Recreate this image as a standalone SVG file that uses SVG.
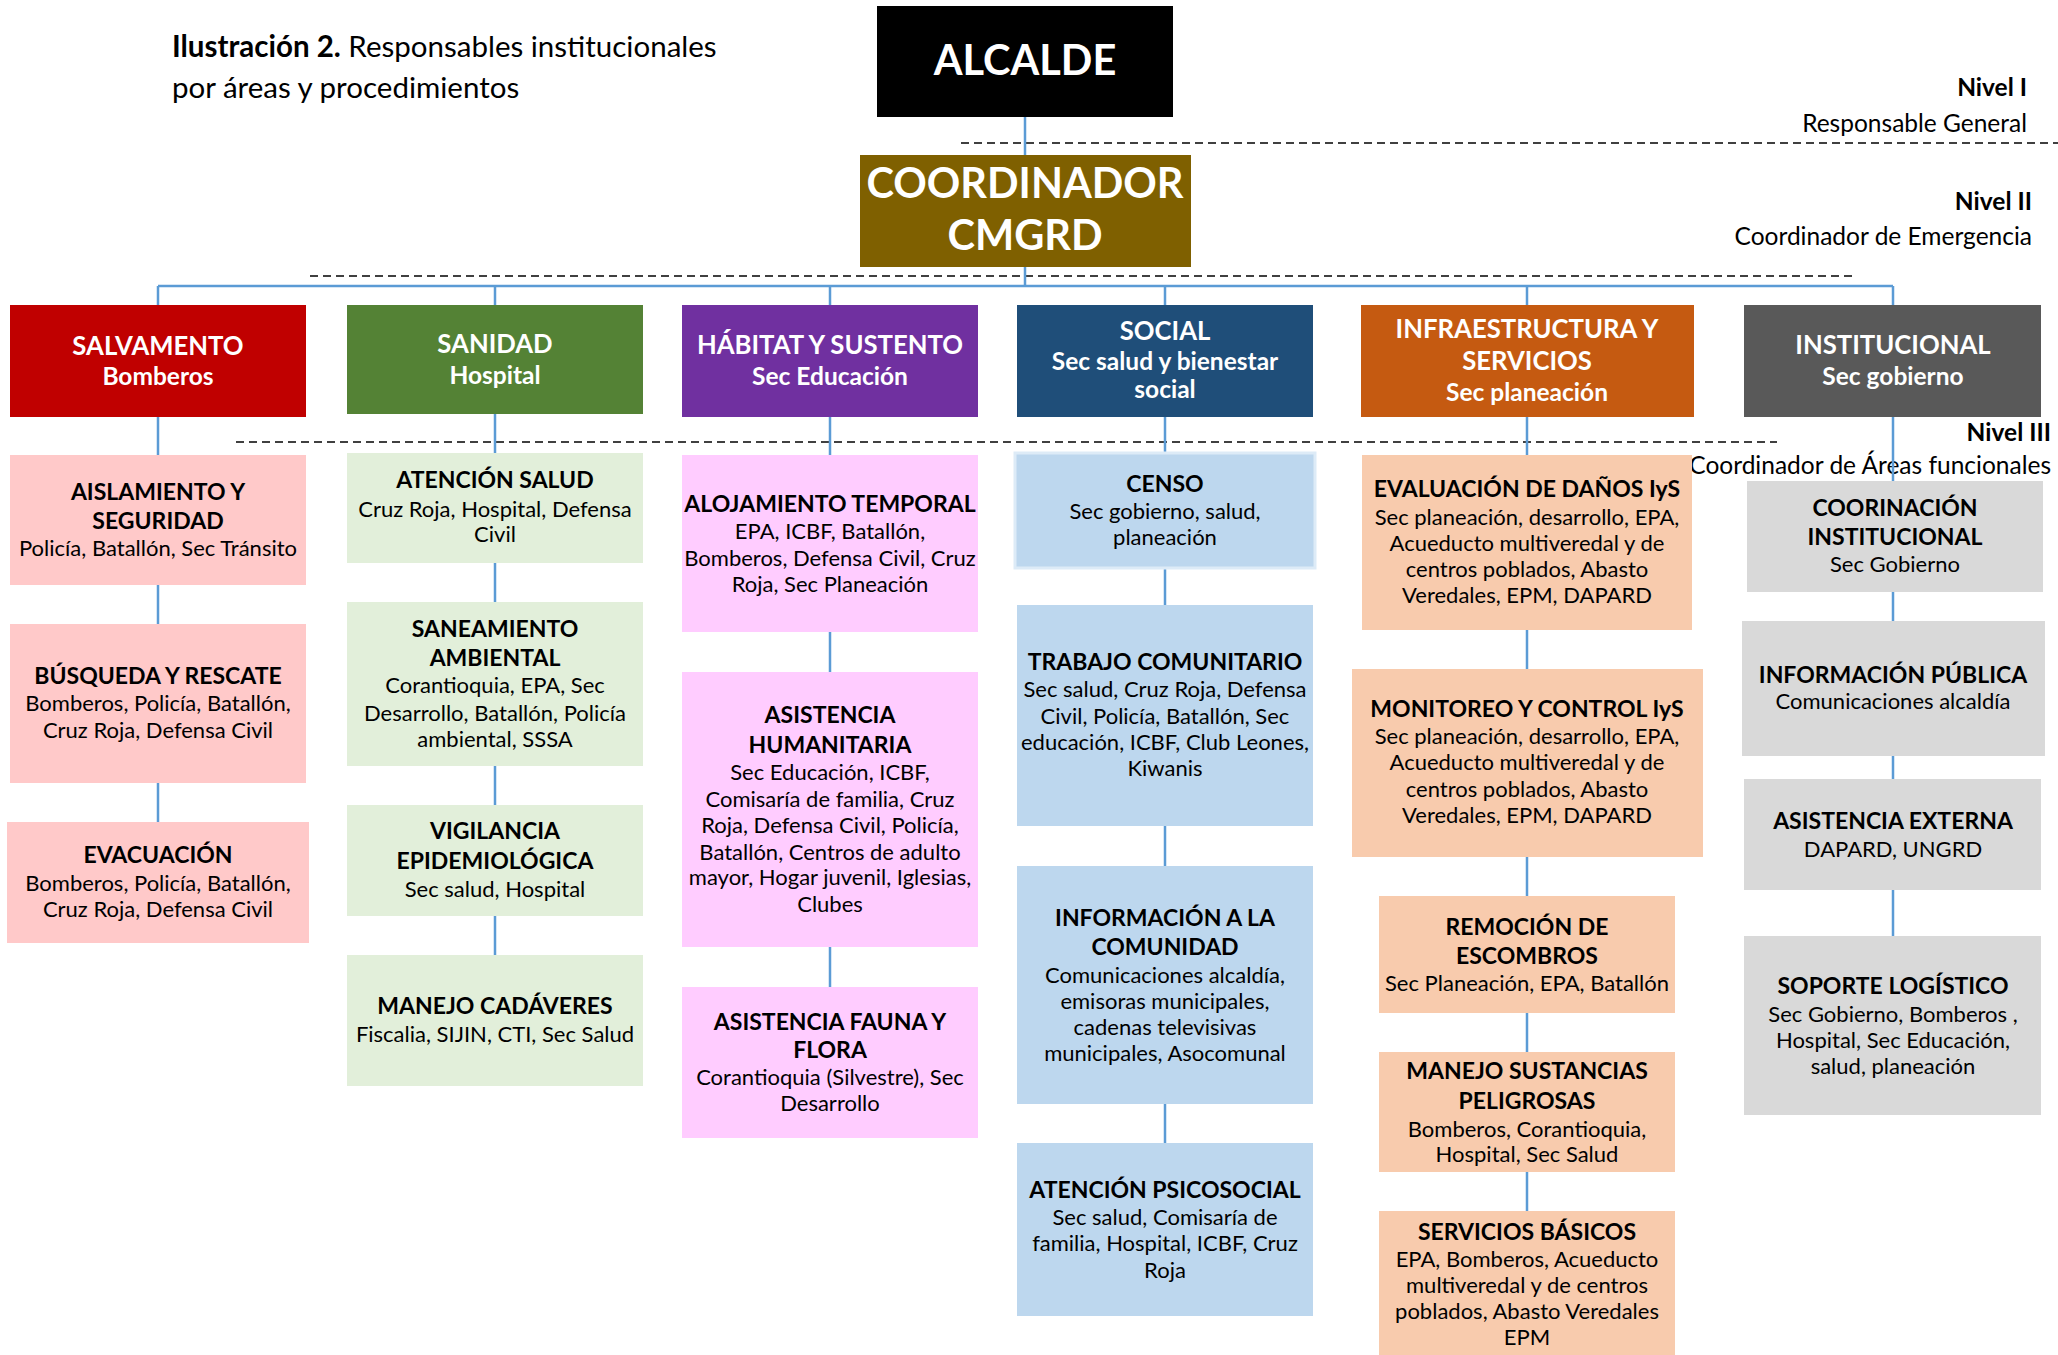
<svg xmlns="http://www.w3.org/2000/svg" width="2058" height="1355" viewBox="0 0 2058 1355">
<style>
text{font-family:Lato,"Liberation Sans",sans-serif;text-anchor:middle}
.big{font-weight:700;font-size:41.5px;fill:#fff}
.h1{font-weight:700;font-size:25.7px;fill:#fff}
.h2{font-weight:700;font-size:24.5px;fill:#fff}
.st{font-weight:700;font-size:23px;fill:#000}
.sb{font-size:22px;fill:#000}
.lab{font-size:24.5px;fill:#000;text-anchor:end}
.labb{font-size:24.5px;font-weight:700;fill:#000;text-anchor:end}
.ttl{font-size:29.5px;fill:#000;text-anchor:start}
.conn{stroke:#5B9BD5;stroke-width:2.5;fill:none}
.dash{stroke:#404040;stroke-width:2;stroke-dasharray:8 5;fill:none}
.c1{fill:#FFC9C9}.c2{fill:#E2EFDA}.c3{fill:#FFCCFF}.c4{fill:#BDD7EE}.c5{fill:#F8CBAD}.c6{fill:#D9D9D9}
</style>
<rect width="2058" height="1355" fill="#fff"/>
<g id="title">
<text class="ttl" x="172" y="57"><tspan font-weight="700">Ilustración 2.</tspan> Responsables institucionales</text>
<text class="ttl" x="172" y="98">por áreas y procedimientos</text>
</g>
<g id="levels">
<path class="dash" d="M961 143H2058M310 276H1852M236 442H1777"/>
<text class="labb" x="2027" y="96">Nivel I</text>
<text class="lab" x="2027" y="132">Responsable General</text>
<text class="labb" x="2032" y="210">Nivel II</text>
<text class="lab" x="2032" y="245">Coordinador de Emergencia</text>
<text class="labb" x="2051" y="441">Nivel III</text>
<text class="lab" x="2051" y="474">Coordinador de Áreas funcionales</text>
</g>
<g id="connectors" class="conn">
<path d="M1025 117V155M1025 267V286M158 286H1893M158 286V305M495 286V305M830 286V305M1165 286V305M1527 286V305M1893 286V305"/>
<path d="M158 417V455M158 585V624M158 783V822"/>
<path d="M495 414V453M495 563V602M495 766V805M495 916V955"/>
<path d="M830 417V455M830 632V672M830 947V987"/>
<path d="M1165 417V453M1165 568V605M1165 826V866M1165 1104V1143"/>
<path d="M1527 417V455M1527 630V669M1527 857V896M1527 1013V1052M1527 1172V1211"/>
<path d="M1893 417V481M1893 592V621M1893 756V779M1893 890V936"/>
</g>
<g id="alcalde"><rect x="877" y="6" width="296" height="111" fill="#000"/><text class="big" x="1025" y="75">ALCALDE</text></g>
<g id="coordinador"><rect x="860" y="155" width="331" height="112" fill="#7F6000"/><text class="big" x="1025" y="198">COORDINADOR</text><text class="big" x="1025" y="250">CMGRD</text></g>
<g id="salvamento"><rect x="10" y="305" width="296" height="112" fill="#C00000"/><text class="h1" x="158" y="355">SALVAMENTO</text><text class="h2" x="158" y="385">Bomberos</text></g>
<g id="sanidad"><rect x="347" y="305" width="296" height="109" fill="#548235"/><text class="h1" x="495" y="353">SANIDAD</text><text class="h2" x="495" y="384">Hospital</text></g>
<g id="habitat"><rect x="682" y="305" width="296" height="112" fill="#7030A0"/><text class="h1" x="830" y="354">HÁBITAT Y SUSTENTO</text><text class="h2" x="830" y="385">Sec Educación</text></g>
<g id="social"><rect x="1017" y="305" width="296" height="112" fill="#1F4E79"/><text class="h1" x="1165" y="340">SOCIAL</text><text class="h2" x="1165" y="370">Sec salud y bienestar</text><text class="h2" x="1165" y="398">social</text></g>
<g id="infraestructura"><rect x="1361" y="305" width="333" height="112" fill="#C55A11"/><text class="h1" x="1527" y="338">INFRAESTRUCTURA Y</text><text class="h1" x="1527" y="370">SERVICIOS</text><text class="h2" x="1527" y="401">Sec planeación</text></g>
<g id="institucional"><rect x="1744" y="305" width="297" height="112" fill="#595959"/><text class="h1" x="1893" y="354">INSTITUCIONAL</text><text class="h2" x="1893" y="385">Sec gobierno</text></g>

<g id="aislamiento"><rect class="c1" x="10" y="455" width="296" height="130"/><text class="st" x="158" y="500">AISLAMIENTO Y</text><text class="st" x="158" y="529">SEGURIDAD</text><text class="sb" x="158" y="556">Policía, Batallón, Sec Tránsito</text></g>
<g id="busqueda"><rect class="c1" x="10" y="624" width="296" height="159"/><text class="st" x="158" y="684">BÚSQUEDA Y RESCATE</text><text class="sb" x="158" y="711">Bomberos, Policía, Batallón,</text><text class="sb" x="158" y="738">Cruz Roja, Defensa Civil</text></g>
<g id="evacuacion"><rect class="c1" x="7" y="822" width="302" height="121"/><text class="st" x="158" y="863">EVACUACIÓN</text><text class="sb" x="158" y="891">Bomberos, Policía, Batallón,</text><text class="sb" x="158" y="917">Cruz Roja, Defensa Civil</text></g>

<g id="atencion-salud"><rect class="c2" x="347" y="453" width="296" height="110"/><text class="st" x="495" y="488">ATENCIÓN SALUD</text><text class="sb" x="495" y="517">Cruz Roja, Hospital, Defensa</text><text class="sb" x="495" y="542">Civil</text></g>
<g id="saneamiento"><rect class="c2" x="347" y="602" width="296" height="164"/><text class="st" x="495" y="637">SANEAMIENTO</text><text class="st" x="495" y="666">AMBIENTAL</text><text class="sb" x="495" y="693">Corantioquia, EPA, Sec</text><text class="sb" x="495" y="721">Desarrollo, Batallón, Policía</text><text class="sb" x="495" y="747">ambiental, SSSA</text></g>
<g id="vigilancia"><rect class="c2" x="347" y="805" width="296" height="111"/><text class="st" x="495" y="839">VIGILANCIA</text><text class="st" x="495" y="869">EPIDEMIOLÓGICA</text><text class="sb" x="495" y="897">Sec salud, Hospital</text></g>
<g id="cadaveres"><rect class="c2" x="347" y="955" width="296" height="131"/><text class="st" x="495" y="1014">MANEJO CADÁVERES</text><text class="sb" x="495" y="1042">Fiscalia, SIJIN, CTI, Sec Salud</text></g>

<g id="alojamiento"><rect class="c3" x="682" y="455" width="296" height="177"/><text class="st" x="830" y="512">ALOJAMIENTO TEMPORAL</text><text class="sb" x="830" y="539">EPA, ICBF, Batallón,</text><text class="sb" x="830" y="566">Bomberos, Defensa Civil, Cruz</text><text class="sb" x="830" y="592">Roja, Sec Planeación</text></g>
<g id="asistencia-humanitaria"><rect class="c3" x="682" y="672" width="296" height="275"/><text class="st" x="830" y="723">ASISTENCIA</text><text class="st" x="830" y="753">HUMANITARIA</text><text class="sb" x="830" y="780">Sec Educación, ICBF,</text><text class="sb" x="830" y="807">Comisaría de familia, Cruz</text><text class="sb" x="830" y="833">Roja, Defensa Civil, Policía,</text><text class="sb" x="830" y="860">Batallón, Centros de adulto</text><text class="sb" x="830" y="885">mayor, Hogar juvenil, Iglesias,</text><text class="sb" x="830" y="912">Clubes</text></g>
<g id="fauna-flora"><rect class="c3" x="682" y="987" width="296" height="151"/><text class="st" x="830" y="1030">ASISTENCIA FAUNA Y</text><text class="st" x="830" y="1058">FLORA</text><text class="sb" x="830" y="1085">Corantioquia (Silvestre), Sec</text><text class="sb" x="830" y="1111">Desarrollo</text></g>

<g id="censo"><rect class="c4" x="1015" y="453" width="300" height="115" stroke="#DDEBF7" stroke-width="3"/><text class="st" x="1165" y="492">CENSO</text><text class="sb" x="1165" y="519">Sec gobierno, salud,</text><text class="sb" x="1165" y="545">planeación</text></g>
<g id="trabajo-comunitario"><rect class="c4" x="1017" y="605" width="296" height="221"/><text class="st" x="1165" y="670">TRABAJO COMUNITARIO</text><text class="sb" x="1165" y="697">Sec salud, Cruz Roja, Defensa</text><text class="sb" x="1165" y="724">Civil, Policía, Batallón, Sec</text><text class="sb" x="1165" y="750">educación, ICBF, Club Leones,</text><text class="sb" x="1165" y="776">Kiwanis</text></g>
<g id="informacion-comunidad"><rect class="c4" x="1017" y="866" width="296" height="238"/><text class="st" x="1165" y="926">INFORMACIÓN A LA</text><text class="st" x="1165" y="955">COMUNIDAD</text><text class="sb" x="1165" y="983">Comunicaciones alcaldía,</text><text class="sb" x="1165" y="1009">emisoras municipales,</text><text class="sb" x="1165" y="1035">cadenas televisivas</text><text class="sb" x="1165" y="1061">municipales, Asocomunal</text></g>
<g id="psicosocial"><rect class="c4" x="1017" y="1143" width="296" height="173"/><text class="st" x="1165" y="1198">ATENCIÓN PSICOSOCIAL</text><text class="sb" x="1165" y="1225">Sec salud, Comisaría de</text><text class="sb" x="1165" y="1251">familia, Hospital, ICBF, Cruz</text><text class="sb" x="1165" y="1278">Roja</text></g>

<g id="evaluacion-danos"><rect class="c5" x="1362" y="455" width="330" height="175"/><text class="st" x="1527" y="497">EVALUACIÓN DE DAÑOS IyS</text><text class="sb" x="1527" y="525">Sec planeación, desarrollo, EPA,</text><text class="sb" x="1527" y="551">Acueducto multiveredal y de</text><text class="sb" x="1527" y="577">centros poblados, Abasto</text><text class="sb" x="1527" y="603">Veredales, EPM, DAPARD</text></g>
<g id="monitoreo"><rect class="c5" x="1352" y="669" width="351" height="188"/><text class="st" x="1527" y="717">MONITOREO Y CONTROL IyS</text><text class="sb" x="1527" y="744">Sec planeación, desarrollo, EPA,</text><text class="sb" x="1527" y="770">Acueducto multiveredal y de</text><text class="sb" x="1527" y="797">centros poblados, Abasto</text><text class="sb" x="1527" y="823">Veredales, EPM, DAPARD</text></g>
<g id="remocion"><rect class="c5" x="1379" y="896" width="296" height="117"/><text class="st" x="1527" y="935">REMOCIÓN DE</text><text class="st" x="1527" y="964">ESCOMBROS</text><text class="sb" x="1527" y="991">Sec Planeación, EPA, Batallón</text></g>
<g id="sustancias"><rect class="c5" x="1379" y="1052" width="296" height="120"/><text class="st" x="1527" y="1079">MANEJO SUSTANCIAS</text><text class="st" x="1527" y="1109">PELIGROSAS</text><text class="sb" x="1527" y="1137">Bomberos, Corantioquia,</text><text class="sb" x="1527" y="1162">Hospital, Sec Salud</text></g>
<g id="servicios-basicos"><rect class="c5" x="1379" y="1211" width="296" height="144"/><text class="st" x="1527" y="1240">SERVICIOS BÁSICOS</text><text class="sb" x="1527" y="1267">EPA, Bomberos, Acueducto</text><text class="sb" x="1527" y="1293">multiveredal y de centros</text><text class="sb" x="1527" y="1319">poblados, Abasto Veredales</text><text class="sb" x="1527" y="1345">EPM</text></g>

<g id="coordinacion-institucional"><rect class="c6" x="1747" y="481" width="296" height="111"/><text class="st" x="1895" y="516">COORINACIÓN</text><text class="st" x="1895" y="545">INSTITUCIONAL</text><text class="sb" x="1895" y="572">Sec Gobierno</text></g>
<g id="informacion-publica"><rect class="c6" x="1742" y="621" width="303" height="135"/><text class="st" x="1893" y="683">INFORMACIÓN PÚBLICA</text><text class="sb" x="1893" y="709">Comunicaciones alcaldía</text></g>
<g id="asistencia-externa"><rect class="c6" x="1744" y="779" width="297" height="111"/><text class="st" x="1893" y="829">ASISTENCIA EXTERNA</text><text class="sb" x="1893" y="857">DAPARD, UNGRD</text></g>
<g id="soporte-logistico"><rect class="c6" x="1744" y="936" width="297" height="179"/><text class="st" x="1893" y="994">SOPORTE LOGÍSTICO</text><text class="sb" x="1893" y="1022">Sec Gobierno, Bomberos ,</text><text class="sb" x="1893" y="1048">Hospital, Sec Educación,</text><text class="sb" x="1893" y="1074">salud, planeación</text></g>
</svg>
